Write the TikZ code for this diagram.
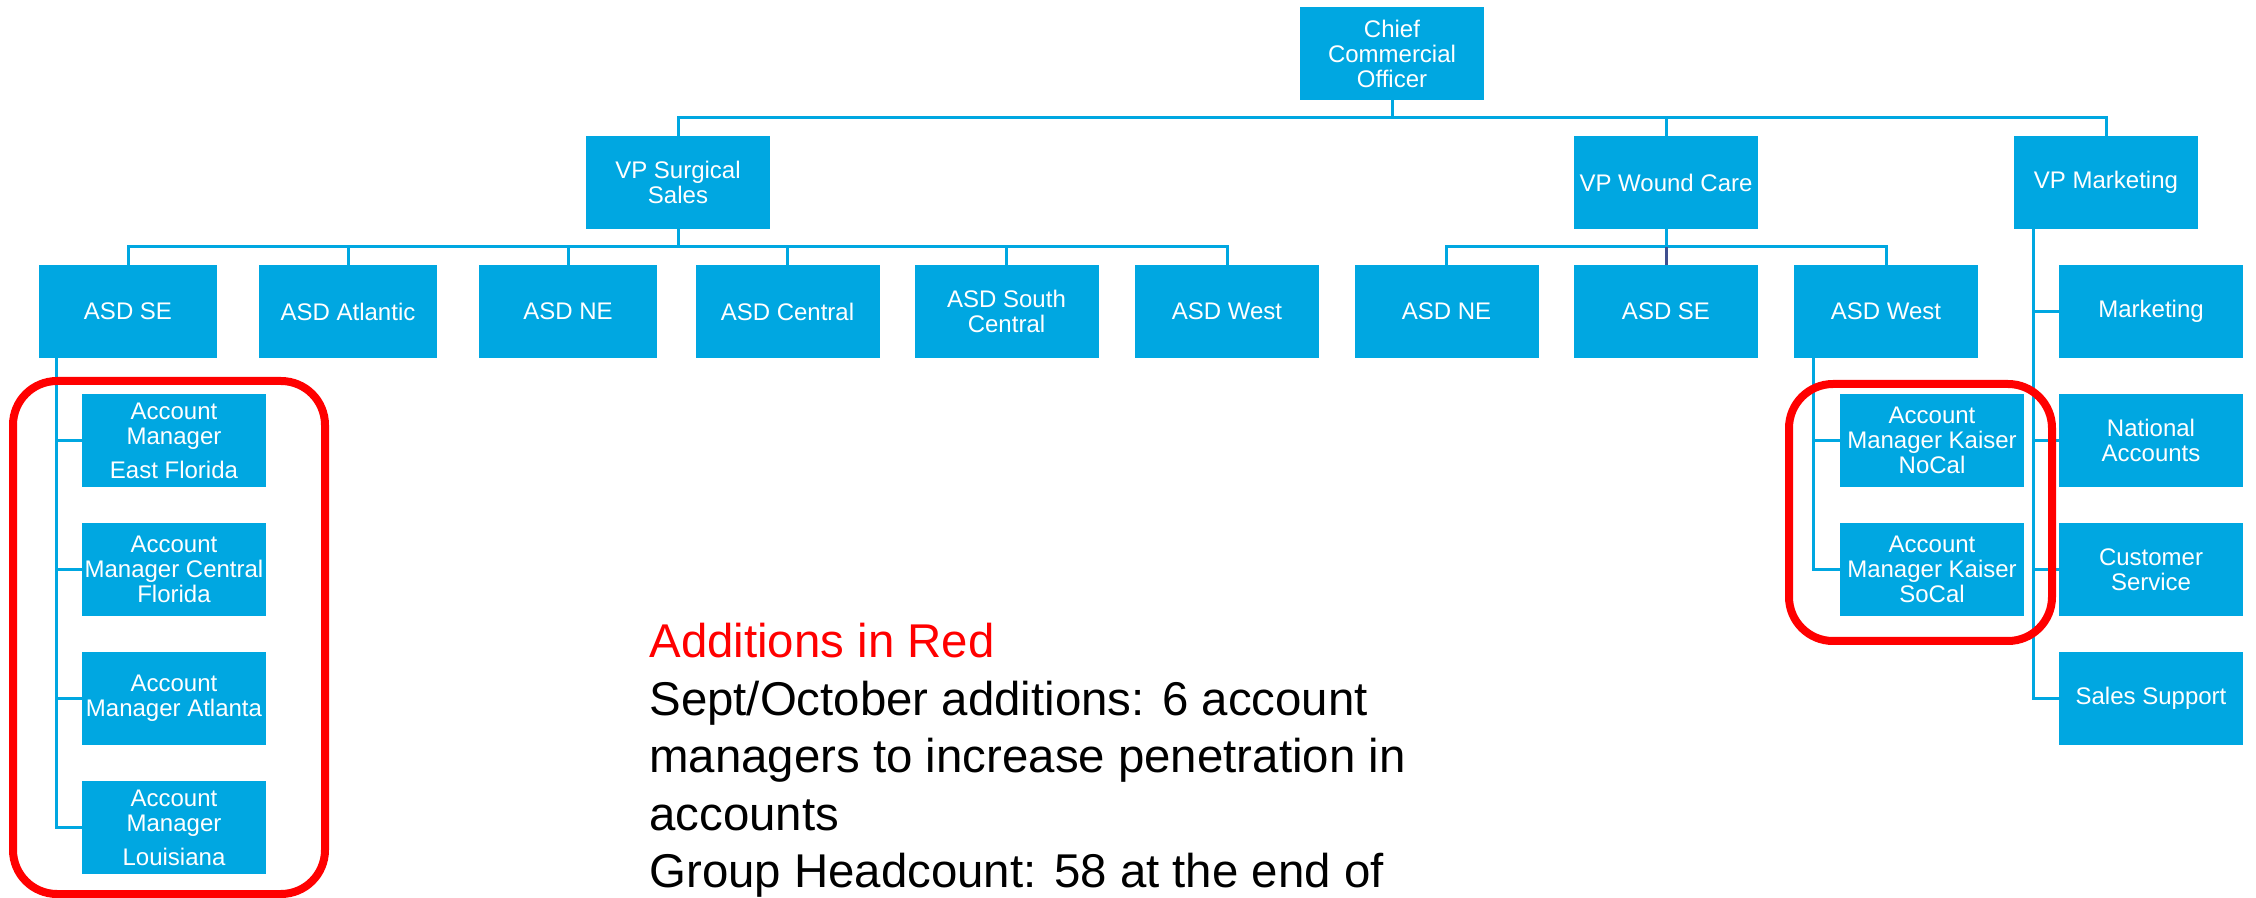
\documentclass[tikz,border=0pt]{standalone}
\usepackage{fontspec}
\setmainfont{Liberation Sans}
\definecolor{boxblue}{HTML}{00A7E1}
\definecolor{darkline}{HTML}{3F4F8F}
\begin{document}
\begin{tikzpicture}[x=0.5pt,y=-0.5pt,
  box/.style={fill=boxblue, text=white, minimum height=46.5pt, minimum width=92pt,
    inner sep=0pt, align=center, font=\fontsize{12}{12.5}\selectfont},
  narrow/.style={minimum width=89pt},
  conn/.style={draw=boxblue, line width=1.5pt},
  redbox/.style={draw=red, line width=4pt, rounded corners=22pt},
  note/.style={anchor=base west, inner sep=0pt, font=\fontsize{23.7}{28.5}\selectfont}]
\useasboundingbox (0,0) rectangle (2256,898);

% top level
\node[box] (cco) at (1392,53.5) {Chief\\Commercial\\Officer};
\node[box] (vps) at (678,182.5) {VP Surgical\\Sales};
\node[box] (vpw) at (1666,182.5) {VP Wound Care};
\node[box] (vpm) at (2106,182.5) {VP Marketing};

% surgical ASDs
\node[box,narrow] (s1) at (128,311.5) {ASD SE};
\node[box,narrow] (s2) at (348,311.5) {ASD Atlantic};
\node[box,narrow] (s3) at (568,311.5) {ASD NE};
\node[box] (s4) at (787.5,311.5) {ASD Central};
\node[box] (s5) at (1006.5,311.5) {ASD South\\Central};
\node[box] (s6) at (1227,311.5) {ASD West};

% wound ASDs
\node[box] (w1) at (1446.5,311.5) {ASD NE};
\node[box] (w2) at (1666,311.5) {ASD SE};
\node[box] (w3) at (1886,311.5) {ASD West};

% marketing
\node[box] (m1) at (2151,311.5) {Marketing};
\node[box] (m2) at (2151,440.5) {National\\Accounts};
\node[box] (m3) at (2151,569.5) {Customer\\Service};
\node[box] (m4) at (2151,698.5) {Sales Support};

% account managers SE
\node[box] (a1) at (174,440.5) {Account\\Manager\\[4.5pt]East Florida};
\node[box] (a2) at (174,569.5) {Account\\Manager Central\\Florida};
\node[box] (a3) at (174,698.5) {Account\\Manager Atlanta};
\node[box] (a4) at (174,827.5) {Account\\Manager\\[4.5pt]Louisiana};

% account managers Kaiser
\node[box] (k1) at (1932,440.5) {Account\\Manager Kaiser\\NoCal};
\node[box] (k2) at (1932,569.5) {Account\\Manager Kaiser\\SoCal};

% bus coordinates
\coordinate (b1) at (0,118);
\coordinate (b2) at (0,247);
\coordinate (t1) at (56,0);
\coordinate (t2) at (1813,0);
\coordinate (t3) at (2033,0);

% connectors level 1
\draw[conn] (cco.south) -- (cco.south |- b1);
\draw[conn] (vps.north) -- (vps.north |- b1) -- (vpm.north |- b1) -- (vpm.north);
\draw[conn] (vpw.north) -- (vpw.north |- b1);

% surgical bus
\draw[conn] (vps.south) -- (vps.south |- b2);
\draw[conn] (s1.north) -- (s1.north |- b2) -- (s6.north |- b2) -- (s6.north);
\foreach \i in {2,3,4,5}{\draw[conn] (s\i.north) -- (s\i.north |- b2);}

% wound bus
\draw[conn] (vpw.south) -- (vpw.south |- b2);
\draw[conn] (w1.north) -- (w1.north |- b2) -- (w3.north |- b2) -- (w3.north);
\draw[draw=darkline, line width=1.5pt] (w2.north) -- (w2.north |- b2);

% SE account manager tree
\draw[conn] (t1 |- s1.south) -- (t1 |- a4.west) -- (a4.west);
\foreach \i in {1,2,3}{\draw[conn] (t1 |- a\i.west) -- (a\i.west);}

% Kaiser tree
\draw[conn] (t2 |- w3.south) -- (t2 |- k2.west) -- (k2.west);
\draw[conn] (t2 |- k1.west) -- (k1.west);

% marketing tree
\draw[conn] (t3 |- vpm.south) -- (t3 |- m4.west) -- (m4.west);
\foreach \i in {1,2,3}{\draw[conn] (t3 |- m\i.west) -- (m\i.west);}

% red highlight frames
\draw[redbox] (13,381) rectangle (325,894);
\draw[redbox] (1789,384) rectangle (2052,641);

% notes
\node[note, text=red] (n1) at (649,657) {Additions in Red};
\node[note] (n2) at (649,715) {Sept/October additions: 6 account};
\node[note] (n3) at (649,772) {managers to increase penetration in};
\node[note] (n4) at (649,830) {accounts};
\node[note] (n5) at (649,887) {Group Headcount: 58 at the end of};
\end{tikzpicture}
\end{document}
